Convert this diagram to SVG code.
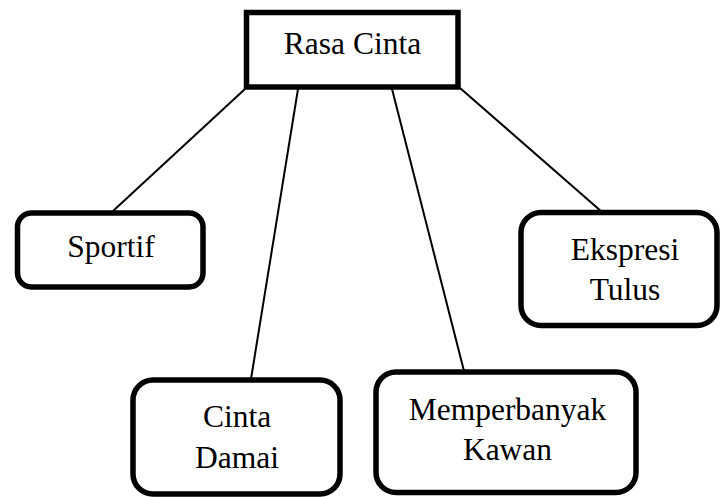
<svg xmlns="http://www.w3.org/2000/svg" width="720" height="497" viewBox="0 0 720 497">
  <style>
    .box { fill: #ffffff; stroke: #000000; stroke-width: 5.5; }
    .link { stroke: #000000; stroke-width: 2; fill: none; }
  </style>
  <rect width="720" height="497" fill="#ffffff"/>

  <!-- connectors from the root box to each child -->
  <g id="connectors">
    <line class="link" x1="245" y1="89" x2="113" y2="211"/>
    <line class="link" x1="298" y1="89" x2="251" y2="379"/>
    <line class="link" x1="392" y1="89" x2="464" y2="371"/>
    <line class="link" x1="460" y1="88" x2="602" y2="212"/>
  </g>

  <!-- all labels share one serif face -->
  <g font-family="Liberation Serif, DejaVu Serif, serif" font-size="31.5" fill="#000000" text-anchor="middle">
    <g id="rasa-cinta">
      <rect class="box" x="246.5" y="12.5" width="211.5" height="74.5"/>
      <text x="352.5" y="53.5">Rasa Cinta</text>
    </g>

    <g id="sportif">
      <rect class="box" x="17.5" y="213" width="185.5" height="74" rx="14" ry="14"/>
      <text x="111" y="257">Sportif</text>
    </g>

    <g id="ekspresi-tulus">
      <rect class="box" x="521" y="212.5" width="196" height="113" rx="20" ry="20"/>
      <text x="625" y="260">Ekspresi</text>
      <text x="625" y="300">Tulus</text>
    </g>

    <g id="cinta-damai">
      <rect class="box" x="133" y="380" width="207" height="114" rx="20" ry="20"/>
      <text x="237" y="427">Cinta</text>
      <text x="237" y="468">Damai</text>
    </g>

    <g id="memperbanyak-kawan">
      <rect class="box" x="376" y="372" width="260" height="120.5" rx="20" ry="20"/>
      <text x="507.5" y="420">Memperbanyak</text>
      <text x="507.5" y="460">Kawan</text>
    </g>
  </g>
</svg>
